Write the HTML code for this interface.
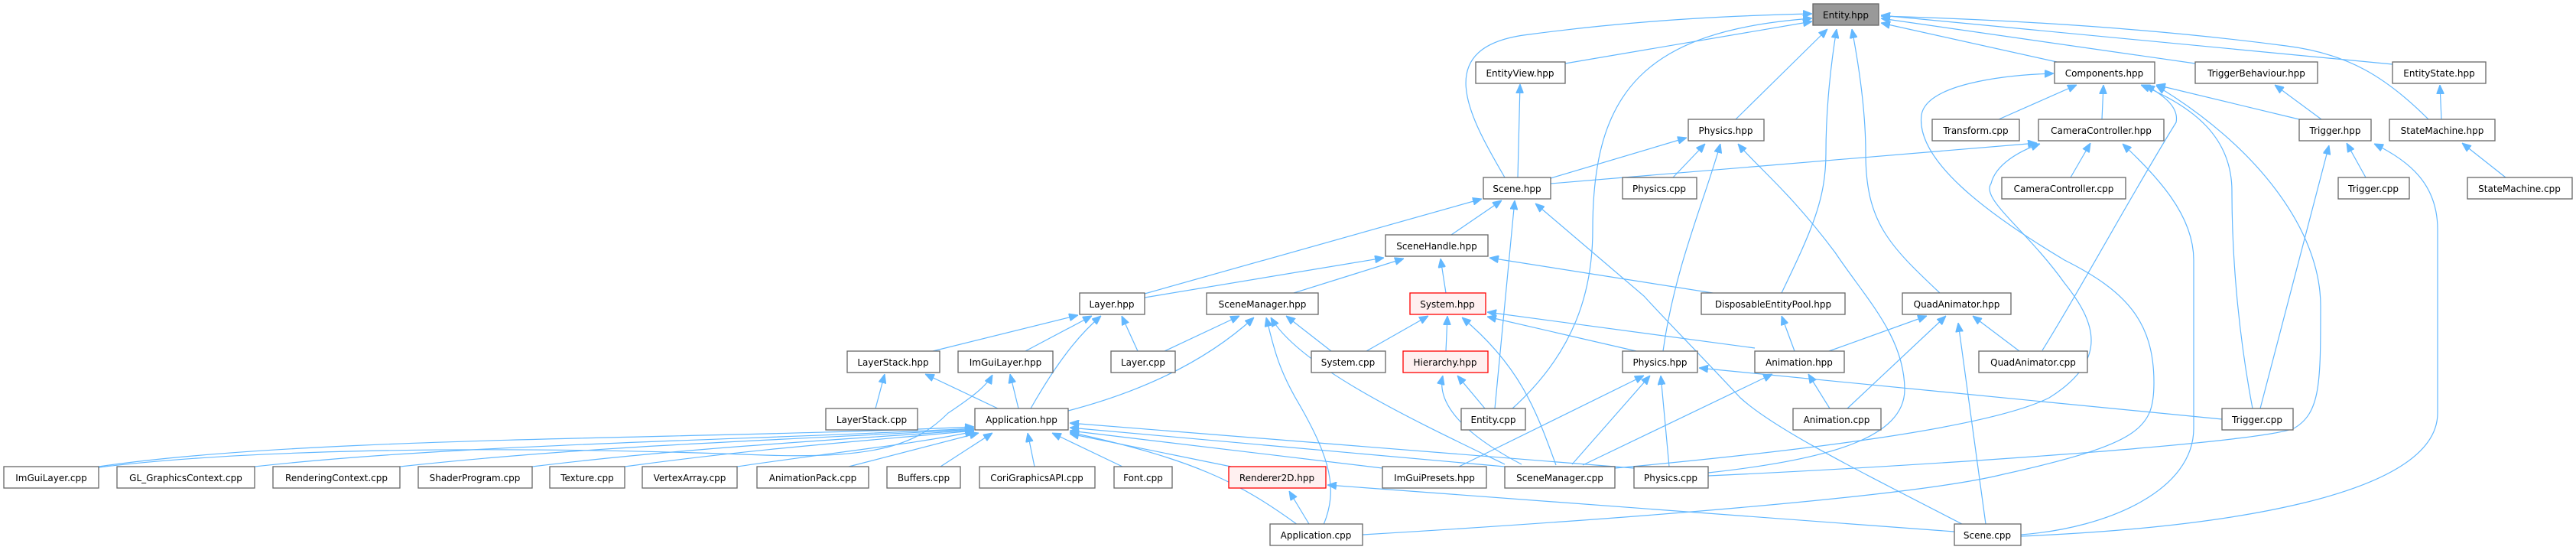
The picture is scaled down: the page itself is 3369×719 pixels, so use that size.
<!DOCTYPE html>
<html><head><meta charset="utf-8"><style>
html,body{margin:0;padding:0;background:#fff;}
svg{display:block;}
text{font-family:"DejaVu Sans","Liberation Sans",sans-serif;font-size:12px;fill:#000;text-anchor:middle;}
.n{fill:#fff;stroke:#666;stroke-width:1.3;}
.r{fill:#fff0f0;stroke:#f00;stroke-width:1.3;}
.g{fill:#999;stroke:#666;stroke-width:1.3;}
path{fill:none;stroke:#63b8ff;stroke-width:1.2;}
</style></head><body>
<svg width="3369" height="719" viewBox="0 0 3369 719" xmlns="http://www.w3.org/2000/svg">
<defs><marker id="a" viewBox="0 0 12 10" refX="12" refY="5" markerWidth="12" markerHeight="10" markerUnits="userSpaceOnUse" orient="auto"><path d="M0,0 L12,5 L0,10 z" style="fill:#63b8ff;stroke:#63b8ff;stroke-width:1"/></marker></defs>
<g marker-end="url(#a)">
<path d="M2047,83 L2370,28"/>
<path d="M1968,232 C1920,150 1870,60 2000,45 C2150,25 2280,20 2370,18"/>
<path d="M1978,534 C2060,460 2083,380 2083,300 C2083,120 2150,40 2370,24"/>
<path d="M2270,156 L2390,38"/>
<path d="M2330,383 C2370,300 2388,260 2388,200 C2388,140 2395,80 2402,38"/>
<path d="M2537,383 C2470,320 2440,290 2440,200 C2440,140 2430,80 2422,38"/>
<path d="M2690,81 L2460,30"/>
<path d="M2871,83 L2460,24"/>
<path d="M3129,84 L2460,20"/>
<path d="M3176,156 C3120,100 3070,70 2990,60 C2800,35 2600,25 2460,21"/>
<path d="M2614,156 L2716,111"/>
<path d="M2749,156 L2751,111"/>
<path d="M3007,156 L2820,111"/>
<path d="M2671,458 C2720,380 2790,250 2846,160 C2850,140 2830,125 2806,111"/>
<path d="M2946,534 C2930,450 2919,350 2919,250 C2919,180 2870,140 2800,111"/>
<path d="M2234,622 C2500,610 2950,580 3000,560 C3035,540 3035,500 3035,400 C3035,300 2950,190 2820,112"/>
<path d="M1782,699 C2100,680 2500,650 2620,620 C2800,580 2817,560 2817,500 C2817,420 2780,380 2700,340 C2600,280 2505,210 2513,150 C2520,110 2620,98 2686,96"/>
<path d="M3036,156 L2975,111"/>
<path d="M3193,156 L3191,111"/>
<path d="M2708,232 L2734,187"/>
<path d="M3094,232 L3069,187"/>
<path d="M3277,232 L3220,187"/>
<path d="M1985,232 L1988,110"/>
<path d="M2028,233 L2206,180"/>
<path d="M2028,240 L2664,187"/>
<path d="M2188,232 L2230,188"/>
<path d="M2175,459 C2190,350 2230,260 2250,188"/>
<path d="M2234,618 C2400,600 2490,570 2491,510 C2491,440 2440,390 2400,330 C2340,250 2300,220 2273,188"/>
<path d="M2112,612 C2350,590 2600,560 2680,520 C2760,470 2740,420 2700,370 C2650,300 2590,260 2604,240 C2610,215 2640,198 2668,188"/>
<path d="M2643,699 C2760,690 2869,640 2869,560 L2869,340 C2869,280 2820,230 2776,188"/>
<path d="M2643,701 C2900,690 3188,650 3188,540 L3188,300 C3188,240 3150,210 3105,188"/>
<path d="M2956,534 L3046,190"/>
<path d="M2906,548 L2222,481"/>
<path d="M2597,685 L2561,422"/>
<path d="M2392,459 L2520,413"/>
<path d="M2416,534 L2545,413"/>
<path d="M2641,459 L2580,413"/>
<path d="M2347,459 L2330,413"/>
<path d="M2393,534 L2365,489"/>
<path d="M2070,608 L2318,489"/>
<path d="M2295,455 L1945,408"/>
<path d="M2140,459 L1945,414"/>
<path d="M2240,383 L1948,337"/>
<path d="M2566,685 C2420,610 2320,560 2276,520 C2220,460 2180,420 2150,387 L2008,266"/>
<path d="M2556,695 L1736,634"/>
<path d="M1898,307 L1964,262"/>
<path d="M1497,384 L1938,260"/>
<path d="M1497,389 L1810,337"/>
<path d="M1692,383 L1836,338"/>
<path d="M1891,383 L1884,338"/>
<path d="M1955,534 L1981,262"/>
<path d="M1220,459 L1410,412"/>
<path d="M1341,459 L1428,413"/>
<path d="M1348,534 C1390,460 1420,430 1440,413"/>
<path d="M1488,459 L1467,413"/>
<path d="M1523,459 L1621,413"/>
<path d="M1741,459 L1682,413"/>
<path d="M1787,459 L1868,413"/>
<path d="M1891,459 L1893,413"/>
<path d="M2035,608 C2010,540 1990,480 1912,415"/>
<path d="M1968,607 C1850,550 1700,480 1662,415"/>
<path d="M1731,686 C1750,640 1740,600 1700,530 C1670,480 1665,450 1656,415"/>
<path d="M1397,537 C1500,510 1580,470 1640,415"/>
<path d="M1305,534 L1210,489"/>
<path d="M1332,534 L1321,489"/>
<path d="M1145,534 L1157,489"/>
<path d="M129,611 C300,590 600,580 1000,595 C1150,600 1200,580 1240,540 C1270,520 1290,505 1298,490"/>
<path d="M129,610 C400,570 900,575 1274,558"/>
<path d="M333,610 C600,580 1000,575 1274,560"/>
<path d="M523,610 C800,580 1050,575 1274,561"/>
<path d="M696,610 C900,585 1100,575 1274,562"/>
<path d="M817,610 C1000,585 1150,575 1274,563"/>
<path d="M964,610 C1100,590 1200,580 1274,564"/>
<path d="M1110,610 L1280,566"/>
<path d="M1230,610 L1298,566"/>
<path d="M1353,610 L1344,566"/>
<path d="M1468,610 L1376,566"/>
<path d="M1610,610 L1399,567"/>
<path d="M1808,612 L1399,563"/>
<path d="M1968,610 L1399,559"/>
<path d="M2137,612 L1399,553"/>
<path d="M1697,686 C1620,630 1560,600 1399,565"/>
<path d="M1712,685 L1686,642"/>
<path d="M1908,610 L2150,491"/>
<path d="M2056,607 L2158,491"/>
<path d="M2183,610 L2172,491"/>
<path d="M1990,607 C1900,560 1880,520 1887,491"/>
<path d="M1942,534 L1906,491"/>
</g>
<g>
<rect class="g" x="2371" y="5" width="86" height="28"/><text x="2414" y="24">Entity.hpp</text>
<rect class="n" x="1930" y="81" width="117" height="28"/><text x="1988" y="100">EntityView.hpp</text>
<rect class="n" x="2687" y="81" width="131" height="28"/><text x="2752" y="100">Components.hpp</text>
<rect class="n" x="2871" y="81" width="160" height="28"/><text x="2951" y="100">TriggerBehaviour.hpp</text>
<rect class="n" x="3129" y="81" width="122" height="28"/><text x="3190" y="100">EntityState.hpp</text>
<rect class="n" x="2208" y="156" width="99" height="28"/><text x="2257" y="175">Physics.hpp</text>
<rect class="n" x="2527" y="156" width="114" height="28"/><text x="2584" y="175">Transform.cpp</text>
<rect class="n" x="2666" y="156" width="164" height="28"/><text x="2748" y="175">CameraController.hpp</text>
<rect class="n" x="3007" y="156" width="94" height="28"/><text x="3054" y="175">Trigger.hpp</text>
<rect class="n" x="3125" y="156" width="138" height="28"/><text x="3194" y="175">StateMachine.hpp</text>
<rect class="n" x="1940" y="232" width="88" height="28"/><text x="1984" y="251">Scene.hpp</text>
<rect class="n" x="2122" y="232" width="97" height="28"/><text x="2170" y="251">Physics.cpp</text>
<rect class="n" x="2618" y="232" width="162" height="28"/><text x="2699" y="251">CameraController.cpp</text>
<rect class="n" x="3058" y="232" width="93" height="28"/><text x="3104" y="251">Trigger.cpp</text>
<rect class="n" x="3227" y="232" width="137" height="28"/><text x="3295" y="251">StateMachine.cpp</text>
<rect class="n" x="1812" y="307" width="134" height="28"/><text x="1879" y="326">SceneHandle.hpp</text>
<rect class="n" x="1412" y="383" width="85" height="28"/><text x="1454" y="402">Layer.hpp</text>
<rect class="n" x="1578" y="383" width="146" height="28"/><text x="1651" y="402">SceneManager.hpp</text>
<rect class="r" x="1844" y="383" width="99" height="28"/><text x="1893" y="402">System.hpp</text>
<rect class="n" x="2225" y="383" width="188" height="28"/><text x="2319" y="402">DisposableEntityPool.hpp</text>
<rect class="n" x="2488" y="383" width="142" height="28"/><text x="2559" y="402">QuadAnimator.hpp</text>
<rect class="n" x="1108" y="459" width="121" height="28"/><text x="1168" y="478">LayerStack.hpp</text>
<rect class="n" x="1253" y="459" width="124" height="28"/><text x="1315" y="478">ImGuiLayer.hpp</text>
<rect class="n" x="1453" y="459" width="84" height="28"/><text x="1495" y="478">Layer.cpp</text>
<rect class="n" x="1715" y="459" width="97" height="28"/><text x="1763" y="478">System.cpp</text>
<rect class="r" x="1835" y="459" width="111" height="28"/><text x="1890" y="478">Hierarchy.hpp</text>
<rect class="n" x="2122" y="459" width="98" height="28"/><text x="2171" y="478">Physics.hpp</text>
<rect class="n" x="2295" y="459" width="117" height="28"/><text x="2353" y="478">Animation.hpp</text>
<rect class="n" x="2588" y="459" width="142" height="28"/><text x="2659" y="478">QuadAnimator.cpp</text>
<rect class="n" x="1080" y="534" width="120" height="28"/><text x="1140" y="553">LayerStack.cpp</text>
<rect class="n" x="1275" y="534" width="122" height="28"/><text x="1336" y="553">Application.hpp</text>
<rect class="n" x="1911" y="534" width="84" height="28"/><text x="1953" y="553">Entity.cpp</text>
<rect class="n" x="2345" y="534" width="115" height="28"/><text x="2402" y="553">Animation.cpp</text>
<rect class="n" x="2906" y="534" width="93" height="28"/><text x="2952" y="553">Trigger.cpp</text>
<rect class="n" x="5" y="610" width="124" height="28"/><text x="67" y="629">ImGuiLayer.cpp</text>
<rect class="n" x="153" y="610" width="180" height="28"/><text x="243" y="629">GL_GraphicsContext.cpp</text>
<rect class="n" x="357" y="610" width="166" height="28"/><text x="440" y="629">RenderingContext.cpp</text>
<rect class="n" x="547" y="610" width="149" height="28"/><text x="621" y="629">ShaderProgram.cpp</text>
<rect class="n" x="719" y="610" width="98" height="28"/><text x="768" y="629">Texture.cpp</text>
<rect class="n" x="840" y="610" width="124" height="28"/><text x="902" y="629">VertexArray.cpp</text>
<rect class="n" x="990" y="610" width="146" height="28"/><text x="1063" y="629">AnimationPack.cpp</text>
<rect class="n" x="1160" y="610" width="96" height="28"/><text x="1208" y="629">Buffers.cpp</text>
<rect class="n" x="1281" y="610" width="151" height="28"/><text x="1356" y="629">CoriGraphicsAPI.cpp</text>
<rect class="n" x="1457" y="610" width="76" height="28"/><text x="1495" y="629">Font.cpp</text>
<rect class="r" x="1607" y="610" width="127" height="28"/><text x="1670" y="629">Renderer2D.hpp</text>
<rect class="n" x="1808" y="610" width="136" height="28"/><text x="1876" y="629">ImGuiPresets.hpp</text>
<rect class="n" x="1968" y="610" width="144" height="28"/><text x="2040" y="629">SceneManager.cpp</text>
<rect class="n" x="2137" y="610" width="97" height="28"/><text x="2185" y="629">Physics.cpp</text>
<rect class="n" x="1661" y="685" width="121" height="28"/><text x="1721" y="704">Application.cpp</text>
<rect class="n" x="2556" y="685" width="87" height="28"/><text x="2599" y="704">Scene.cpp</text>
</g>
</svg>
</body></html>
